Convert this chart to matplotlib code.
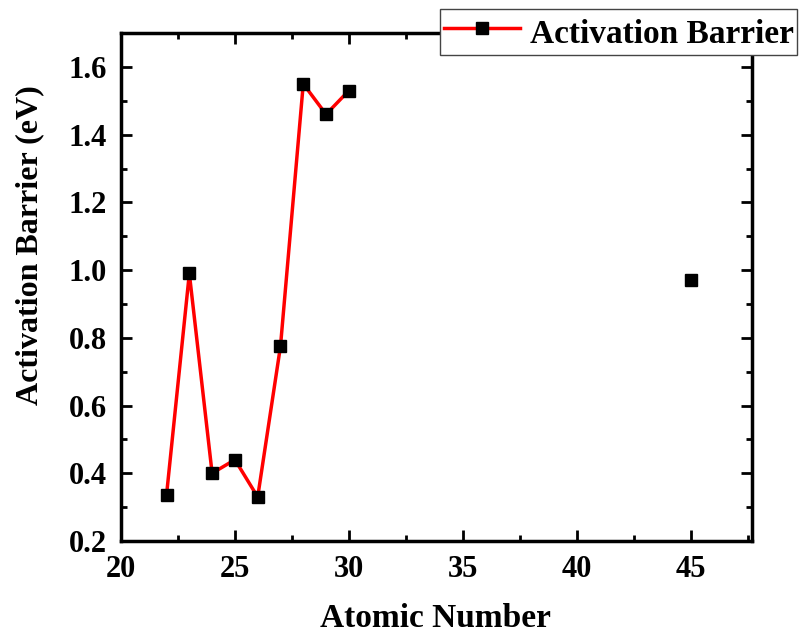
import numpy as np
import matplotlib.pyplot as plt

plt.rcParams['font.family'] = ['Liberation Serif', 'DejaVu Serif']
plt.rcParams['font.weight'] = 'bold'

atomic_number = [22, 23, 24, 25, 26, 27, 28, 29, 30, np.nan, 45]
barrier = [0.336, 0.99, 0.40, 0.44, 0.33, 0.775, 1.55, 1.46, 1.53, np.nan, 0.97]

fig = plt.figure(figsize=(7.99, 6.36), dpi=100)
ax = fig.add_axes([0.1514, 0.1494, 0.790, 0.7986])

ax.plot(atomic_number, barrier, '-', color='red', lw=2.5, marker='s',
        mfc='black', mec='black', ms=8, label='Activation Barrier')

ax.set_xlim(20, 47.7)
ax.set_ylim(0.2, 1.7)
ax.set_xticks([20, 25, 30, 35, 40, 45])
ax.set_xticks(np.arange(22.5, 47.6, 5), minor=True)
ax.set_yticks(np.arange(0.2, 1.61, 0.2))
ax.set_yticks(np.arange(0.3, 1.71, 0.2), minor=True)
ax.yaxis.set_major_formatter(plt.FormatStrFormatter('%.1f'))

ax.tick_params(which='both', direction='in', top=True, right=True, width=2)
ax.tick_params(which='major', length=8, labelsize=22)
ax.tick_params(axis='x', pad=10)
ax.tick_params(axis='y', pad=10)
ax.tick_params(which='minor', length=4.5)
for s in ax.spines.values():
    s.set_linewidth(2.5)

ax.set_xlabel('Atomic Number', fontsize=24, fontweight='bold')
ax.set_ylabel('Activation Barrier (eV)', fontsize=23, fontweight='bold')
ax.xaxis.set_label_coords(0.498, -0.122)
ax.yaxis.set_label_coords(-0.122, 0.583)

leg = ax.legend(loc='upper right', bbox_to_anchor=(0.998, 0.986),
                bbox_transform=fig.transFigure, fontsize=24, fancybox=False,
                edgecolor='#444444', framealpha=1, borderpad=0.1,
                handlelength=2.3, handleheight=1.45, handletextpad=0.3,
                borderaxespad=0)
leg.get_frame().set_linewidth(1)

fig.savefig('out.png', dpi=100)
